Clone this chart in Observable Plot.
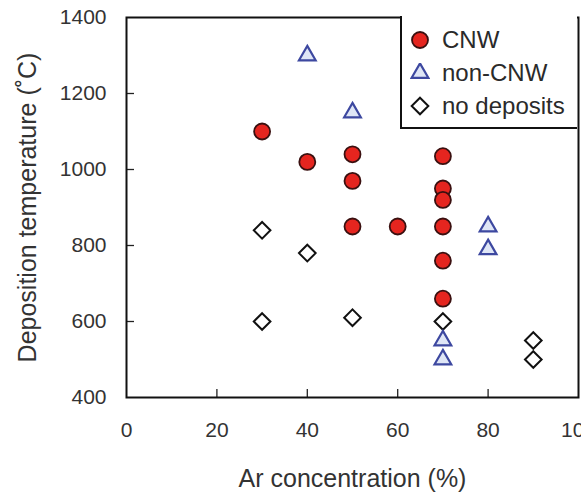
<!DOCTYPE html>
<html><head><meta charset="utf-8">
<script src="https://cdn.jsdelivr.net/npm/d3@7"></script>
<script src="https://cdn.jsdelivr.net/npm/@observablehq/plot@0.6"></script>
<style>
body{margin:0;background:#fff;font-family:"Liberation Sans",Arial,sans-serif;}
#wrap{position:relative;width:581px;height:494px;overflow:hidden;}
#legend{position:absolute;left:400px;top:16px;width:177px;height:113px;border:2px solid #111;border-right:none;border-top:none;background:#fff;box-sizing:border-box;font-size:24px;color:#2a2a2a;}
#legend .row{position:absolute;left:8px;height:24px;display:flex;align-items:center;white-space:nowrap;}
#legend svg{margin-right:12px;flex:none;}
</style></head>
<body><div id="wrap"><div id="chart"></div><div id="legend"></div></div>
<script>
const seriesNames = ["CNW", "non-CNW", "no deposits"];
const cnwX = [30, 40, 50, 50, 50, 60, 70, 70, 70, 70, 70, 70];
const cnwY = [1100, 1020, 1040, 970, 850, 850, 1035, 950, 920, 850, 760, 660];
const nonX = [40, 50, 80, 80, 70, 70];
const nonY = [1300, 1150, 850, 790, 550, 500];
const noneX = [30, 40, 30, 50, 70, 90, 90];
const noneY = [840, 780, 600, 610, 600, 550, 500];
const xTicks = [0, 20, 40, 60, 80, 100];
const yTicks = [400, 600, 800, 1000, 1200, 1400];
const xInnerTicks = [20, 40, 60, 80];
const yInnerTicks = [600, 800, 1000, 1200];
const xLabel = "Ar concentration (%)";
const yLabel = "Deposition temperature (˚C)";

const cnw = cnwX.map((x, i) => ({x, y: cnwY[i]}));
const non = nonX.map((x, i) => ({x, y: nonY[i]}));
const none = noneX.map((x, i) => ({x, y: noneY[i]}));

const styles = {
  "CNW": {symbol: "circle", fill: "#e5251f", stroke: "#3a1010", r: 8, sw: 1.8},
  "non-CNW": {symbol: "triangle", fill: "#dfe6f6", stroke: "#3d48a0", r: 6.2, sw: 2.2},
  "no deposits": {symbol: "diamond2", fill: "#fff", stroke: "#111", r: 7.5, sw: 2}
};

const W = 581, H = 494, ML = 126, MR = 3, MT = 17, MB = 97;
const frameW = W - ML - MR, frameH = H - MT - MB, tickLen = 8;

const plot = Plot.plot({
  width: W, height: H,
  marginLeft: ML, marginRight: MR, marginTop: MT, marginBottom: MB,
  style: {fontFamily: "Liberation Sans, Arial, sans-serif", fontSize: "21px", color: "#333", background: "#fff", overflow: "visible"},
  x: {domain: [0, 100]},
  y: {domain: [400, 1400]},
  marks: [
    Plot.axisX({ticks: xTicks, tickSize: 0, tickPadding: 25, label: null, fontSize: 21, tickFormat: d3.format("d")}),
    Plot.axisY({ticks: yTicks, tickSize: 0, tickPadding: 20, label: null, fontSize: 21, tickFormat: d3.format("d")}),
    Plot.ruleX(xInnerTicks, {x: d => d, insetTop: frameH - tickLen, stroke: "#222", strokeWidth: 1.3}),
    Plot.ruleY(yInnerTicks, {y: d => d, insetRight: frameW - tickLen, stroke: "#222", strokeWidth: 1.3}),
    Plot.text([xLabel], {text: d => d, frameAnchor: "bottom", lineAnchor: "middle", dy: 81, fontSize: 25, fill: "#333"}),
    Plot.text([yLabel], {text: d => d, frameAnchor: "left", textAnchor: "middle", lineAnchor: "middle", dx: -99, rotate: -90, fontSize: 25, fill: "#333"}),
    Plot.frame({stroke: "#111", strokeWidth: 2}),
    Plot.dot(none, {x: "x", y: "y", symbol: styles["no deposits"].symbol, r: styles["no deposits"].r, fill: styles["no deposits"].fill, stroke: styles["no deposits"].stroke, strokeWidth: styles["no deposits"].sw}),
    Plot.dot(non, {x: "x", y: "y", symbol: styles["non-CNW"].symbol, r: styles["non-CNW"].r, fill: styles["non-CNW"].fill, stroke: styles["non-CNW"].stroke, strokeWidth: styles["non-CNW"].sw}),
    Plot.dot(cnw, {x: "x", y: "y", symbol: styles["CNW"].symbol, r: styles["CNW"].r, fill: styles["CNW"].fill, stroke: styles["CNW"].stroke, strokeWidth: styles["CNW"].sw})
  ]
});
document.getElementById("chart").appendChild(plot);

// legend
const symMap = {circle: d3.symbolCircle, triangle: d3.symbolTriangle, diamond2: d3.symbolDiamond2};
const legend = document.getElementById("legend");
seriesNames.forEach((name, i) => {
  const s = styles[name];
  const row = document.createElement("div");
  row.className = "row";
  row.style.top = (12 + i * 33) + "px";
  const sym = d3.symbol(symMap[s.symbol], Math.PI * s.r * s.r)();
  row.innerHTML = `<svg width="20" height="20" viewBox="-10 -10 20 20"><path d="${sym}" fill="${s.fill}" stroke="${s.stroke}" stroke-width="${s.sw}"/></svg><span>${name}</span>`;
  legend.appendChild(row);
});
</script>
</body></html>
